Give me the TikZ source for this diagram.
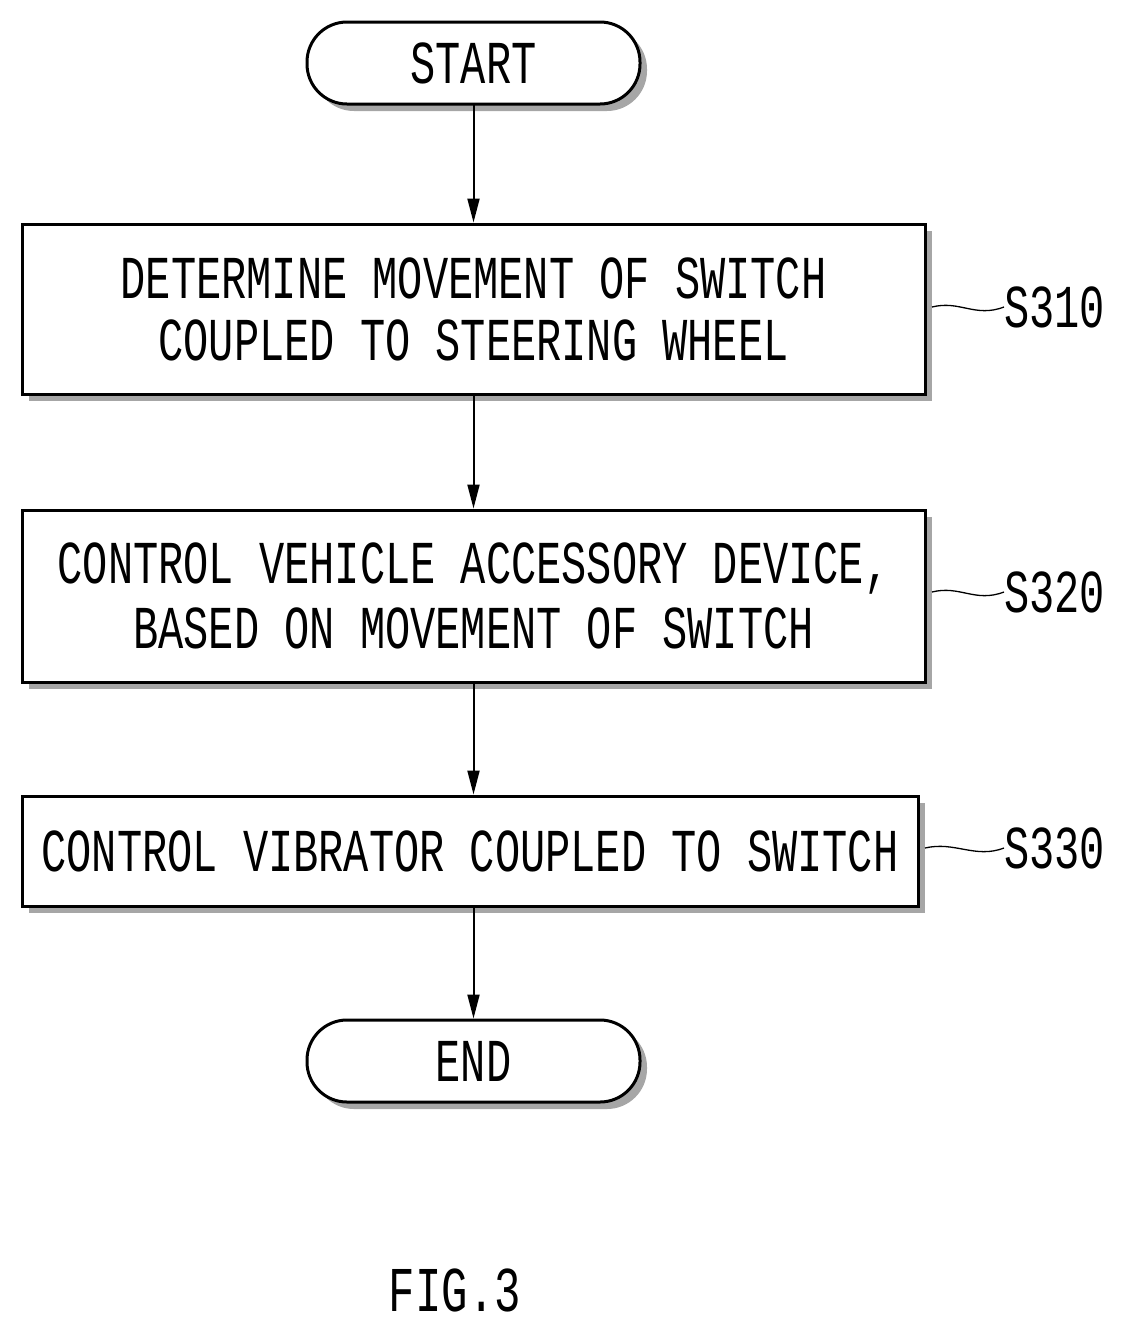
\documentclass[tikz,border=0pt]{standalone}
\usepackage{fontspec}
\setmainfont{Liberation Mono}
\usetikzlibrary{arrows.meta}
\newcommand{\tx}[1]{\scalebox{1}[1.45]{#1}}
\begin{document}
\begin{tikzpicture}[x=1pt,y=-1pt,
  box/.style={draw,line width=3pt,fill=white,inner sep=0pt,font=\fontsize{42}{50}\selectfont},
  arr/.style={line width=2pt,-{Triangle[length=24pt,width=12pt]}},
  lbl/.style={font=\fontsize{42}{50}\selectfont,anchor=west,inner sep=0pt}]
\useasboundingbox (0,0) rectangle (1126,1331);
% shadows
\fill[gray!70,rounded corners=40pt] (314,29) rectangle (647,111);
\fill[gray!70] (29,231) rectangle (932,401);
\fill[gray!70] (29,517) rectangle (932,689);
\fill[gray!70] (29,803) rectangle (925,913);
\fill[gray!70,rounded corners=40pt] (314,1027) rectangle (647,1109);
% nodes
\node[box,rounded corners=40pt,minimum width=333pt,minimum height=82pt] (start) at (473.5,63) {\tx{START}};
\node[box,minimum width=903pt,minimum height=170pt,align=center] (s1) at (473.5,309)
  {\tx{DETERMINE MOVEMENT OF SWITCH}\\[12pt]\tx{COUPLED TO STEERING WHEEL}};
\node[box,minimum width=903pt,minimum height=172pt,align=center] (s2) at (473.5,596)
  {\tx{CONTROL VEHICLE ACCESSORY DEVICE,}\\[12pt]\tx{BASED ON MOVEMENT OF SWITCH}};
\node[box,minimum width=896pt,minimum height=110pt] (s3) at (470,851)
  {\tx{CONTROL VIBRATOR COUPLED TO SWITCH}};
\node[box,rounded corners=40pt,minimum width=333pt,minimum height=82pt] (end) at (473.5,1061) {\tx{END}};
% arrows
\draw[arr] ([yshift=1.5pt]start.south) -- (s1.north);
\draw[arr] ([yshift=1.5pt]s1.south) -- (s2.north);
\draw[arr] ([yshift=1.5pt]s2.south) -- (s2.south |- s3.north);
\draw[arr] ([yshift=1.5pt]s3.south -| end.south) -- (end.north);
% labels
\node[lbl] (l1) at (1004,307) {\tx{S310}};
\node[lbl] (l2) at (1004,592) {\tx{S320}};
\node[lbl] (l3) at (1004,848) {\tx{S330}};
\draw[line width=1.3pt] (932,307) .. controls (960,300) and (975,318) .. (l1.west);
\draw[line width=1.3pt] (932,592) .. controls (960,585) and (975,603) .. (l2.west);
\draw[line width=1.3pt] (925,848) .. controls (955,841) and (975,859) .. (l3.west);
\node[font=\fontsize{44}{50}\selectfont] (fig) at (455,1290) {\tx{FIG.3}};
\end{tikzpicture}
\end{document}
